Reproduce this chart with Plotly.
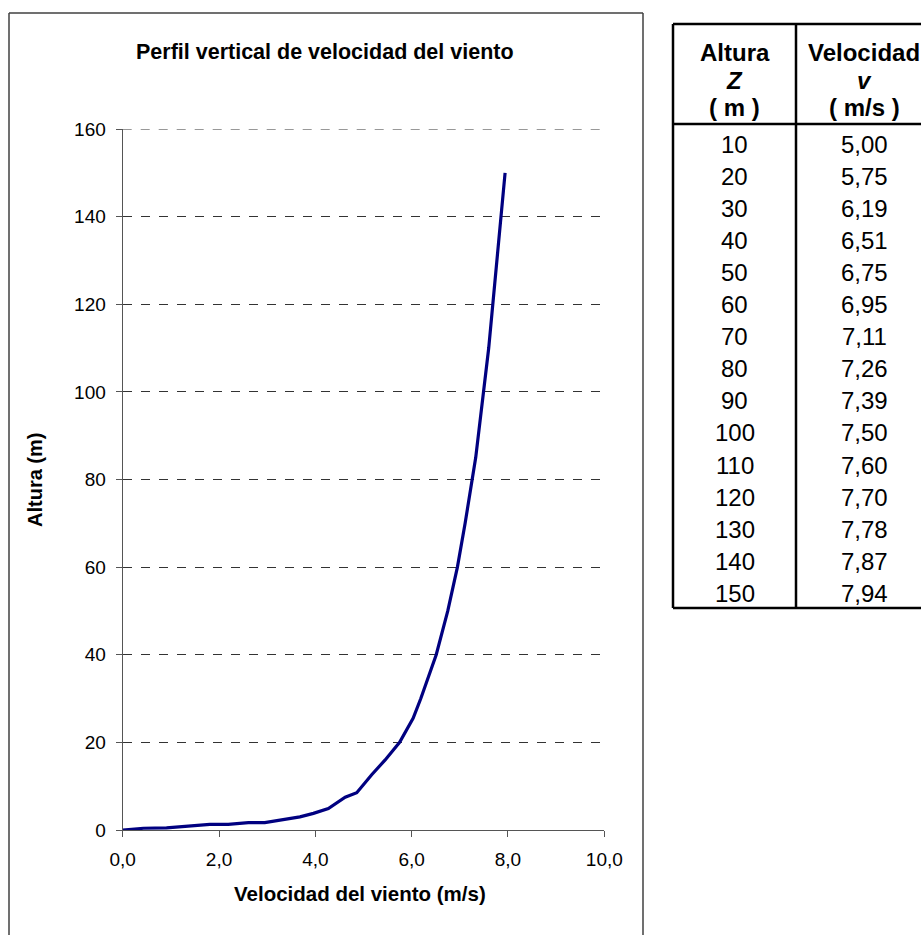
import plotly.graph_objects as go

# ---- data ----
curve_v = [0, 0.43, 0.91, 1.81, 2.19, 2.61, 2.95, 3.27, 3.68, 3.96, 4.27, 4.62, 4.86,
           5.17, 5.45, 5.75, 6.03, 6.19, 6.51, 6.75, 6.95, 7.11, 7.33, 7.60, 7.94]
curve_z = [0, 0.4, 0.5, 1.3, 1.3, 1.7, 1.7, 2.3, 3.0, 3.8, 4.9, 7.5, 8.5,
           12.6, 16, 20, 25.5, 30, 40, 50, 60, 70, 85, 110, 150]

table_heights = [10, 20, 30, 40, 50, 60, 70, 80, 90, 100, 110, 120, 130, 140, 150]
table_speeds = [5.00, 5.75, 6.19, 6.51, 6.75, 6.95, 7.11, 7.26, 7.39, 7.50, 7.60, 7.70, 7.78, 7.87, 7.94]

x_ticks = [0, 2, 4, 6, 8, 10]
y_ticks = [0, 20, 40, 60, 80, 100, 120, 140, 160]

W, H = 921, 935
FONT = "Liberation Sans, Arial, sans-serif"


def px(x):
    return x / W


def py(y):
    return 1 - y / H


fig = go.Figure()
fig.add_trace(go.Scatter(x=curve_v, y=curve_z, mode="lines",
                         line=dict(color="#000080", width=3.2), hoverinfo="x+y"))

axis_color = "#555555"
grid_color = "#333333"
fig.update_layout(
    width=W, height=H,
    margin=dict(l=0, r=0, t=0, b=0, autoexpand=False),
    paper_bgcolor="white", plot_bgcolor="white",
    showlegend=False,
    separators=",.",
    font=dict(family=FONT, color="black"),
    xaxis=dict(domain=[px(122.7), px(604.3)], range=[0, 10], tickvals=x_ticks,
               tickformat=".1f", showgrid=False, zeroline=False, automargin=False,
               showline=True, linecolor=axis_color, linewidth=1.2,
               ticks="outside", ticklen=6, tickcolor=axis_color, tickwidth=1.2,
               tickfont=dict(size=19, family=FONT, color="black"),
               ticklabelstandoff=6),
    yaxis=dict(domain=[py(830), py(129)], range=[0, 160], tickvals=y_ticks,
               showgrid=True, gridcolor=grid_color, griddash="dash", gridwidth=1,
               zeroline=False, automargin=False,
               showline=True, linecolor=axis_color, linewidth=1.2,
               ticks="outside", ticklen=6, tickcolor=axis_color, tickwidth=1.2,
               tickfont=dict(size=19, family=FONT, color="black"),
               ticklabelstandoff=6),
)

shapes = []
# gridline at the top of the y range (plotly omits it at the edge)
shapes.append(dict(type="line", xref="x domain", yref="y", x0=0, x1=1, y0=y_ticks[-1], y1=y_ticks[-1],
                   line=dict(color=grid_color, width=1, dash="dash"), layer="below"))
# chart frame (bottom edge lies outside the picture)
frame_col = "#404040"
shapes.append(dict(type="line", xref="paper", yref="paper", x0=px(9), x1=px(9), y0=py(13), y1=py(960),
                   line=dict(color=frame_col, width=1.5)))
shapes.append(dict(type="line", xref="paper", yref="paper", x0=px(643), x1=px(643), y0=py(13), y1=py(960),
                   line=dict(color=frame_col, width=1.5)))
shapes.append(dict(type="line", xref="paper", yref="paper", x0=px(9), x1=px(643), y0=py(13), y1=py(13),
                   line=dict(color=frame_col, width=1.5)))

# table lines
tl, tr, tt, tb, tdiv, thdr = 673, 932, 24, 608, 796, 124
for (x0, y0, x1, y1) in [(tl, tt, tr, tt), (tl, tb, tr, tb), (tl, tt, tl, tb), (tr, tt, tr, tb),
                         (tdiv, tt, tdiv, tb), (tl, thdr, tr, thdr)]:
    shapes.append(dict(type="line", xref="paper", yref="paper", x0=px(x0), x1=px(x1), y0=py(y0), y1=py(y1),
                       line=dict(color="black", width=2.5)))
fig.update_layout(shapes=shapes)

ann = []
ann.append(dict(text="<b>Perfil vertical de velocidad del viento</b>", x=px(325), y=py(52),
                xref="paper", yref="paper", showarrow=False, xanchor="center", yanchor="middle",
                font=dict(size=21.5, family=FONT)))
ann.append(dict(text="<b>Velocidad del viento (m/s)</b>", x=px(360), y=py(893),
                xref="paper", yref="paper", showarrow=False, xanchor="center", yanchor="middle",
                font=dict(size=20.5, family=FONT)))
ann.append(dict(text="<b>Altura (m)</b>", x=px(35), y=py(480), textangle=-90,
                xref="paper", yref="paper", showarrow=False, xanchor="center", yanchor="middle",
                font=dict(size=20, family=FONT)))

c1, c2 = 734.5, 864
hdr = [("<b>Altura</b>", "<b>Velocidad</b>", 52), ("<b><i>Z</i></b>", "<b><i>v</i></b>", 80),
       ("<b>( m )</b>", "<b>( m/s )</b>", 108)]
for t1, t2, yy in hdr:
    for t, xx in ((t1, c1), (t2, c2)):
        ann.append(dict(text=t, x=px(xx), y=py(yy), xref="paper", yref="paper", showarrow=False,
                        xanchor="center", yanchor="middle", font=dict(size=24, family=FONT)))
for i, (h, s) in enumerate(zip(table_heights, table_speeds)):
    yy = 144 + 32.1 * i
    ann.append(dict(text=str(h), x=px(c1), y=py(yy), xref="paper", yref="paper", showarrow=False,
                    xanchor="center", yanchor="middle", font=dict(size=24, family=FONT)))
    ann.append(dict(text=f"{s:.2f}".replace(".", ","), x=px(c2), y=py(yy), xref="paper", yref="paper",
                    showarrow=False, xanchor="center", yanchor="middle", font=dict(size=24, family=FONT)))
fig.update_layout(annotations=ann)

fig.write_html("out.html", config={"displayModeBar": False},
               post_script="document.body.style.margin='0px';")
